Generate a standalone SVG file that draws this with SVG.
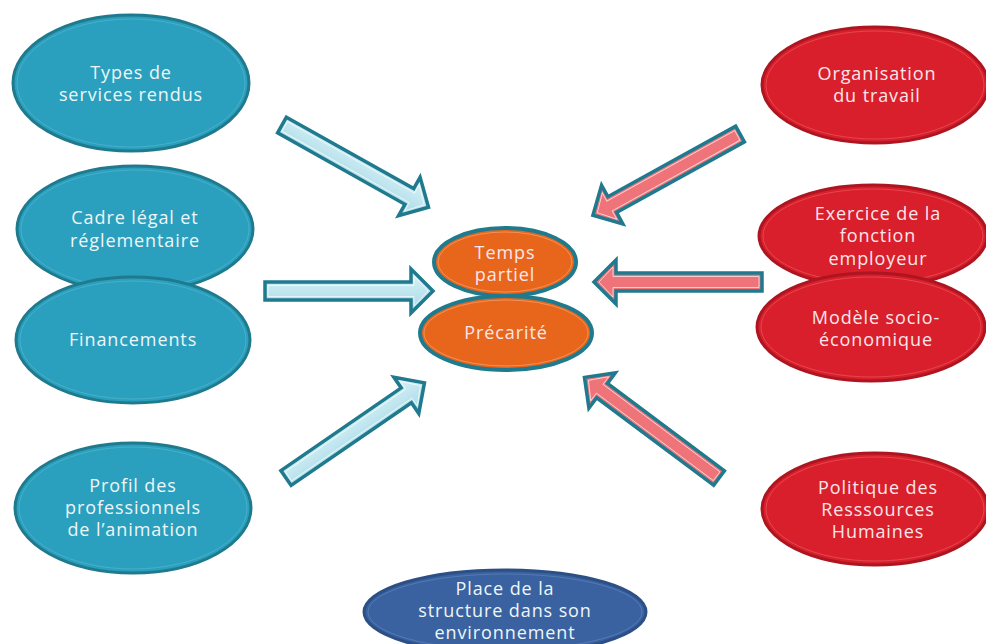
<svg xmlns="http://www.w3.org/2000/svg" width="986" height="644" viewBox="0 0 986 644">
<style>
text{font-family:"Open Sans","DejaVu Sans",sans-serif;font-size:18px;text-anchor:middle;letter-spacing:0.9px}
.blue{fill:#2aa0be;stroke:#1f7a8e;stroke-width:3}
.red{fill:#d81f2b;stroke:#ad1520;stroke-width:3}
.orange{fill:#e8661c;stroke:#1f7a8e;stroke-width:4}
.navy{fill:#3a62a0;stroke:#2c4f85;stroke-width:3}
.inb{fill:none;stroke:#4fb4cc;stroke-width:0.8}
.inr{fill:none;stroke:#e8505a;stroke-width:0.8}
.ino{fill:none;stroke:#f59a66;stroke-width:0.8}
.tb{fill:#eef6f8}
.tr{fill:#fbe6ea}
.arrow-b{fill:url(#gb);stroke:#1f7a8e;stroke-width:3.5;stroke-linejoin:miter}
.arrow-r{fill:#ee747a;stroke:#1f7a8e;stroke-width:3.5;stroke-linejoin:miter}
.inner{fill:none;stroke:#ffffff;stroke-opacity:0.7;stroke-width:0.9}
</style>
<defs>
<linearGradient id="gb" x1="0" y1="0" x2="0" y2="1">
<stop offset="0" stop-color="#dff3f8"/>
<stop offset="1" stop-color="#a3d9e6"/>
</linearGradient>
<path id="arr" d="M0,-9 L146,-9 L146,-22 L168,0 L146,22 L146,9 L0,9 Z"/>
<path id="arri" d="M3,-5.5 L149,-5.5 L149,-15 L163,0 L149,15 L149,5.5 L3,5.5 Z"/>
</defs>

<g id="connectors">
<g transform="translate(282,125) rotate(29.3)"><use href="#arr" class="arrow-b"/><use href="#arri" class="inner"/></g>
<g transform="translate(265,291)"><use href="#arr" class="arrow-b"/><use href="#arri" class="inner"/></g>
<g transform="translate(286,478) rotate(-34.5)"><use href="#arr" class="arrow-b"/><use href="#arri" class="inner"/></g>
<g transform="translate(740,134) rotate(151.1)"><use href="#arr" class="arrow-r"/><use href="#arri" class="inner"/></g>
<g transform="translate(762,282) rotate(180)"><use href="#arr" class="arrow-r"/><use href="#arri" class="inner"/></g>
<g transform="translate(719,478) rotate(-143.2)"><use href="#arr" class="arrow-r"/><use href="#arri" class="inner"/></g>
</g>

<g id="types">
<ellipse class="blue" cx="131" cy="83" rx="118" ry="68"/>
<ellipse class="inb" cx="131" cy="83" rx="114" ry="64"/>
<text class="tb" x="131" y="79">Types de</text>
<text class="tb" x="131" y="101">services rendus</text>
</g>
<g id="cadre">
<ellipse class="blue" cx="135" cy="229" rx="118" ry="63"/>
<ellipse class="inb" cx="135" cy="229" rx="114" ry="59"/>
<text class="tb" x="135" y="224">Cadre légal et</text>
<text class="tb" x="135" y="247">réglementaire</text>
</g>
<g id="financements">
<ellipse class="blue" cx="133" cy="340" rx="117" ry="63"/>
<ellipse class="inb" cx="133" cy="340" rx="113" ry="59"/>
<text class="tb" x="133" y="346">Financements</text>
</g>
<g id="profil">
<ellipse class="blue" cx="133" cy="508" rx="118" ry="65"/>
<ellipse class="inb" cx="133" cy="508" rx="114" ry="61"/>
<text class="tb" x="133" y="492">Profil des</text>
<text class="tb" x="133" y="514">professionnels</text>
<text class="tb" x="133" y="536">de l’animation</text>
</g>

<g id="organisation">
<ellipse class="red" cx="875" cy="85" rx="113" ry="58"/>
<ellipse class="inr" cx="875" cy="85" rx="109" ry="54"/>
<text class="tr" x="877" y="80">Organisation</text>
<text class="tr" x="877" y="102">du travail</text>
</g>
<g id="exercice">
<ellipse class="red" cx="873" cy="236" rx="114" ry="51"/>
<ellipse class="inr" cx="873" cy="236" rx="110" ry="47"/>
<text class="tr" x="878" y="220">Exercice de la</text>
<text class="tr" x="878" y="242">fonction</text>
<text class="tr" x="878" y="265">employeur</text>
</g>
<g id="modele">
<ellipse class="red" cx="871" cy="327" rx="114" ry="54"/>
<ellipse class="inr" cx="871" cy="327" rx="110" ry="50"/>
<text class="tr" x="876" y="324">Modèle socio-</text>
<text class="tr" x="876" y="346">économique</text>
</g>
<g id="politique">
<ellipse class="red" cx="875" cy="509" rx="113" ry="56"/>
<ellipse class="inr" cx="875" cy="509" rx="109" ry="52"/>
<text class="tr" x="878" y="494">Politique des</text>
<text class="tr" x="878" y="516">Resssources</text>
<text class="tr" x="878" y="538">Humaines</text>
</g>

<g id="temps">
<ellipse class="orange" cx="505" cy="262" rx="71" ry="34"/>
<ellipse class="ino" cx="505" cy="262" rx="67" ry="30"/>
<text class="tr" x="505" y="259">Temps</text>
<text class="tr" x="505" y="281">partiel</text>
</g>
<g id="precarite">
<ellipse class="orange" cx="506" cy="333" rx="86" ry="37"/>
<ellipse class="ino" cx="506" cy="333" rx="82" ry="33"/>
<text class="tr" x="506" y="339">Précarité</text>
</g>

<g id="place">
<ellipse class="navy" cx="505" cy="612" rx="141" ry="42"/>
<ellipse class="inb" cx="505" cy="612" rx="137" ry="38" style="stroke:#5a80b8"/>
<text class="tb" x="505" y="595">Place de la</text>
<text class="tb" x="505" y="617">structure dans son</text>
<text class="tb" x="505" y="639">environnement</text>
</g>
</svg>
